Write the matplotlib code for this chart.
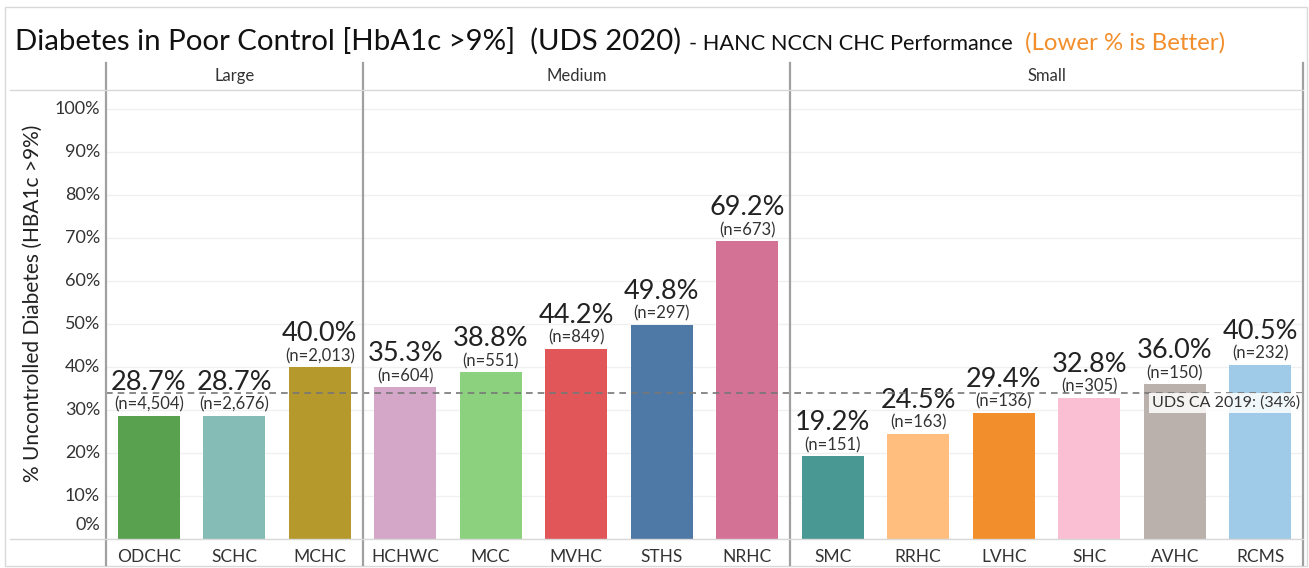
import matplotlib
matplotlib.use("Agg")
import matplotlib.pyplot as plt
import matplotlib.transforms as mtransforms
from matplotlib.lines import Line2D
from matplotlib.patches import Rectangle

plt.rcParams['font.family'] = ['Lato', 'DejaVu Sans']

# data
groups = ['Large', 'Medium', 'Small']
group_sizes = [3, 5, 6]
centers = ['ODCHC', 'SCHC', 'MCHC', 'HCHWC', 'MCC', 'MVHC', 'STHS', 'NRHC',
           'SMC', 'RRHC', 'LVHC', 'SHC', 'AVHC', 'RCMS']
pct = [28.7, 28.7, 40.0, 35.3, 38.8, 44.2, 49.8, 69.2,
       19.2, 24.5, 29.4, 32.8, 36.0, 40.5]
n_patients = [4504, 2676, 2013, 604, 551, 849, 297, 673,
              151, 163, 136, 305, 150, 232]
bar_colors = ['#59A14F', '#86BCB6', '#B6992D', '#D4A6C8', '#8CD17D', '#E15759',
              '#4E79A7', '#D37295', '#499894', '#FFBE7D', '#F28E2B', '#FABFD2',
              '#BAB0AC', '#A0CBE8']
ref_value = 34
ref_label = 'UDS CA 2019: (34%)'
y_ticks = [0, 10, 20, 30, 40, 50, 60, 70, 80, 90, 100]

W, H = 1309, 568
fig = plt.figure(figsize=(W / 100, H / 100), dpi=100)
fig.patch.set_facecolor('white')

# axes placement in pixels
left, right, top, bottom = 106, 1303, 90, 539
ax = fig.add_axes([left / W, (H - bottom) / H, (right - left) / W, (bottom - top) / H])

x = list(range(len(centers)))
ax.bar(x, pct, width=0.725, color=bar_colors, zorder=2)
ax.set_xlim(-0.5, len(centers) - 0.5)
ax.set_ylim(0, 104.4)

for s in ax.spines.values():
    s.set_visible(False)
ax.set_yticks(y_ticks)
ax.yaxis.grid(True, color='#f0f0f0', lw=1, zorder=0)
ax.tick_params(axis='y', length=0, labelleft=False)
ax.set_xticks(x)
ax.set_xticklabels(centers, fontsize=12.5, color='#333333')
ax.tick_params(axis='x', length=0, pad=7)

# y tick labels drawn by hand (0% sits a bit higher, as in the original)
ytrans = mtransforms.blended_transform_factory(fig.transFigure, ax.transData)
for t in y_ticks:
    off = 14 if t == 0 else 0
    ax.annotate(f'{t}%', xy=(100 / W, t), xycoords=ytrans,
                xytext=(0, off), textcoords='offset pixels',
                ha='right', va='center', fontsize=13, color='#333333')

# bar labels
for xi, p, n in zip(x, pct, n_patients):
    ax.annotate(f'(n={n:,})', xy=(xi, p), xytext=(0, 3), textcoords='offset pixels',
                ha='center', va='bottom', fontsize=12, color='#333333')
    ax.annotate(f'{p:.1f}%', xy=(xi, p), xytext=(0, 21), textcoords='offset pixels',
                ha='center', va='bottom', fontsize=19.5, color='#222222')

# reference line
ax.axhline(ref_value, color='#777777', lw=1.2, ls=(0, (4, 3)), zorder=3)
ax.annotate(ref_label, xy=(1.0, ref_value), xycoords=('axes fraction', 'data'),
            xytext=(-3, -3), textcoords='offset pixels', ha='right', va='top',
            fontsize=11.5, color='#333333', zorder=4,
            bbox=dict(boxstyle='square,pad=0.15', fc='white', ec='none', alpha=0.85))

# panel frames and headers
vtrans = mtransforms.blended_transform_factory(ax.transData, fig.transFigure)
bounds = [-0.5]
for g in group_sizes:
    bounds.append(bounds[-1] + g)
for b in bounds:
    fig.add_artist(Line2D([b, b], [1 - 63 / H, 1 - 565 / H], transform=vtrans,
                          color='#a0a0a0', lw=1.6))
for i, g in enumerate(groups):
    fig.text((bounds[i] + bounds[i + 1]) / 2, 1 - 76 / H, g, transform=vtrans,
             ha='center', va='center', fontsize=12, color='#333333')
for yy in (top, bottom):
    fig.add_artist(Line2D([10 / W, right / W], [1 - yy / H, 1 - yy / H],
                          transform=fig.transFigure, color='#d8d8d8', lw=1))

# outer frame
fig.add_artist(Rectangle((5 / W, 2 / H), 1302 / W, 1 - 9 / H, transform=fig.transFigure,
                         fill=False, ec='#d9d9d9', lw=1))

# y label
fig.text(33 / W, 1 - 303 / H, '% Uncontrolled Diabetes (HBA1c >9%)', rotation=90,
         ha='center', va='center', fontsize=15, color='#222222')

# title in three pieces
renderer = fig.canvas.get_renderer()
t1 = fig.text(15 / W, 1 - 50 / H, 'Diabetes in Poor Control [HbA1c >9%]  (UDS 2020)',
              fontsize=21.2, color='#111111', va='baseline')
bb = t1.get_window_extent(renderer)
t2 = fig.text((bb.x1 + 8) / W, 1 - 50 / H, '- HANC NCCN CHC Performance',
              fontsize=15.7, color='#111111', va='baseline')
bb = t2.get_window_extent(renderer)
fig.text((bb.x1 + 12) / W, 1 - 50 / H, '(Lower % is Better)',
         fontsize=17.3, color='#F28E2B', va='baseline')

fig.savefig('out.png', dpi=100)
